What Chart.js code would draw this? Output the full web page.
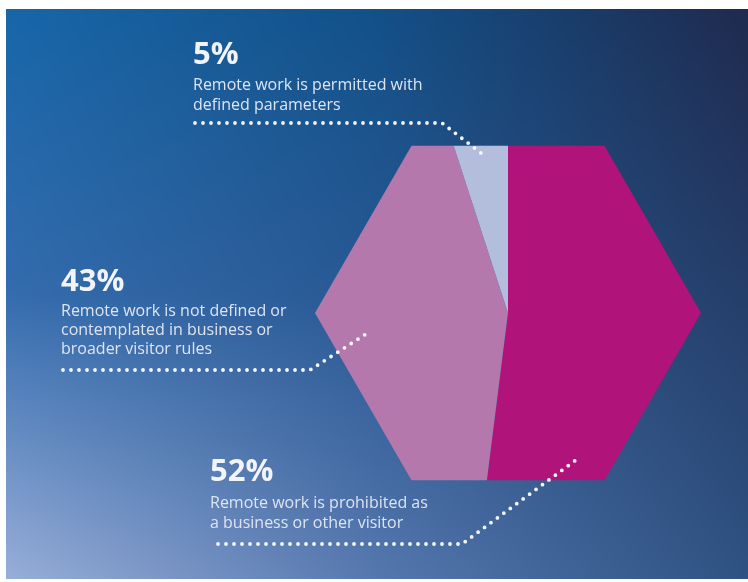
<!DOCTYPE html>
<html>
<head>
<meta charset="utf-8">
<script src="https://cdn.jsdelivr.net/npm/chart.js@4/dist/chart.umd.min.js"></script>
<style>
  body { margin: 0; background: #fff; }
  #wrap { position: relative; width: 748px; height: 582px; overflow: hidden; font-family: "Open Sans", sans-serif; }
  #chart { position: absolute; left: 0; top: 0; }
  .title { position: absolute; font-size: 31px; font-weight: 700; line-height: 31px; color: #f2f4fa; white-space: nowrap; }
  .desc { position: absolute; font-size: 16px; line-height: 20px; color: #dde4f2; white-space: nowrap; }
</style>
</head>
<body>
<div id="wrap">
  <canvas id="chart" width="748" height="582"></canvas>
</div>
<script>
// Data (clockwise from 12 o'clock)
const categories = [
    "Remote work is prohibited as a business or other visitor",
    "Remote work is not defined or contemplated in business or broader visitor rules",
    "Remote work is permitted with defined parameters"
];
const shares = [52, 43, 5];
const descLines = [
    ["Remote work is prohibited as", "a business or other visitor"],
    ["Remote work is not defined or", "contemplated in business or", "broader visitor rules"],
    ["Remote work is permitted with", "defined parameters"]
];

const sliceColors = ["#b0147a", "#b478ac", "#b2bedc"];

// label placement + leader lines (page pixels)
const labelLayout = [
    { x: 210, titleTop: 454, descTop: 492, lh: 20, leader: [[218, 544], [462, 544], [580, 457]] },
    { x: 61, titleTop: 264, descTop: 301, lh: 19, leader: [[63, 370], [310, 370], [366, 334]] },
    { x: 193, titleTop: 37, descTop: 74, lh: 20, leader: [[195, 123], [442, 123], [481, 153]] }
];

const HEX_RADIUS = 193;
const panel = { x0: 6, y0: 9, x1: 748, y1: 579 };

// 3x3 colour grid for the backdrop (top / middle / bottom rows)
const bgGrid = [
    [[23, 102, 168], [18, 80, 136], [31, 42, 78]],
    [[52, 108, 174], [40, 88, 146], [37, 62, 106]],
    [[152, 174, 216], [85, 119, 174], [46, 82, 130]]
];

let bgImage = null;
function buildBackground(ctx) {
    const w = panel.x1 - panel.x0, h = panel.y1 - panel.y0;
    const img = ctx.createImageData(w, h);
    for (let y = 0; y < h; y++) {
        const v = y / (h - 1) * 2;
        const r0 = Math.min(Math.floor(v), 1), fy = v - r0;
        for (let x = 0; x < w; x++) {
            const u = x / (w - 1) * 2;
            const c0 = Math.min(Math.floor(u), 1), fx = u - c0;
            const i = (y * w + x) * 4;
            for (let k = 0; k < 3; k++) {
                const top = bgGrid[r0][c0][k] * (1 - fx) + bgGrid[r0][c0 + 1][k] * fx;
                const bot = bgGrid[r0 + 1][c0][k] * (1 - fx) + bgGrid[r0 + 1][c0 + 1][k] * fx;
                img.data[i + k] = top * (1 - fy) + bot * fy;
            }
            img.data[i + 3] = 255;
        }
    }
    return img;
}

const backdrop = {
    id: "backdrop",
    beforeDraw(chart) {
        const ctx = chart.ctx;
        if (!bgImage) bgImage = buildBackground(ctx);
        ctx.putImageData(bgImage, panel.x0, panel.y0);
    }
};

// clip the pie to a flat-topped hexagon
const hexClip = {
    id: "hexClip",
    beforeDatasetsDraw(chart) {
        const arc = chart.getDatasetMeta(0).data[0];
        const ctx = chart.ctx;
        ctx.save();
        ctx.beginPath();
        for (let i = 0; i < 6; i++) {
            const a = Math.PI / 3 * i;
            const px = arc.x + HEX_RADIUS * Math.cos(a);
            const py = arc.y + HEX_RADIUS * Math.sin(a);
            if (i === 0) ctx.moveTo(px, py); else ctx.lineTo(px, py);
        }
        ctx.closePath();
        ctx.clip();
    },
    afterDatasetsDraw(chart) {
        chart.ctx.restore();
    }
};

const leaders = {
    id: "leaders",
    afterDraw(chart) {
        const ctx = chart.ctx;
        ctx.save();
        ctx.strokeStyle = "#f4f6fb";
        ctx.lineWidth = 3.8;
        ctx.lineCap = "round";
        ctx.setLineDash([0, 8]);
        labelLayout.forEach((l) => {
            ctx.beginPath();
            l.leader.forEach((p, i) => i ? ctx.lineTo(p[0], p[1]) : ctx.moveTo(p[0], p[1]));
            ctx.stroke();
        });
        ctx.restore();
    }
};

new Chart(document.getElementById("chart"), {
    type: "pie",
    data: {
        labels: categories,
        datasets: [{
            data: shares,
            backgroundColor: sliceColors,
            borderWidth: 0
        }]
    },
    options: {
        responsive: false,
        animation: false,
        layout: { padding: { left: 308, right: 40, top: 113, bottom: 69 } },
        plugins: {
            legend: { display: false },
            tooltip: { enabled: false }
        }
    },
    plugins: [backdrop, hexClip, leaders]
});

// text labels as real text
const wrap = document.getElementById("wrap");
shares.forEach((v, i) => {
    const l = labelLayout[i];
    const t = document.createElement("div");
    t.className = "title";
    t.style.left = l.x + "px";
    t.style.top = l.titleTop + "px";
    t.textContent = v + "%";
    wrap.appendChild(t);

    const d = document.createElement("div");
    d.className = "desc";
    d.style.left = l.x + "px";
    d.style.top = l.descTop + "px";
    d.style.lineHeight = l.lh + "px";
    d.innerHTML = descLines[i].join("<br>");
    wrap.appendChild(d);
});
</script>
</body>
</html>
